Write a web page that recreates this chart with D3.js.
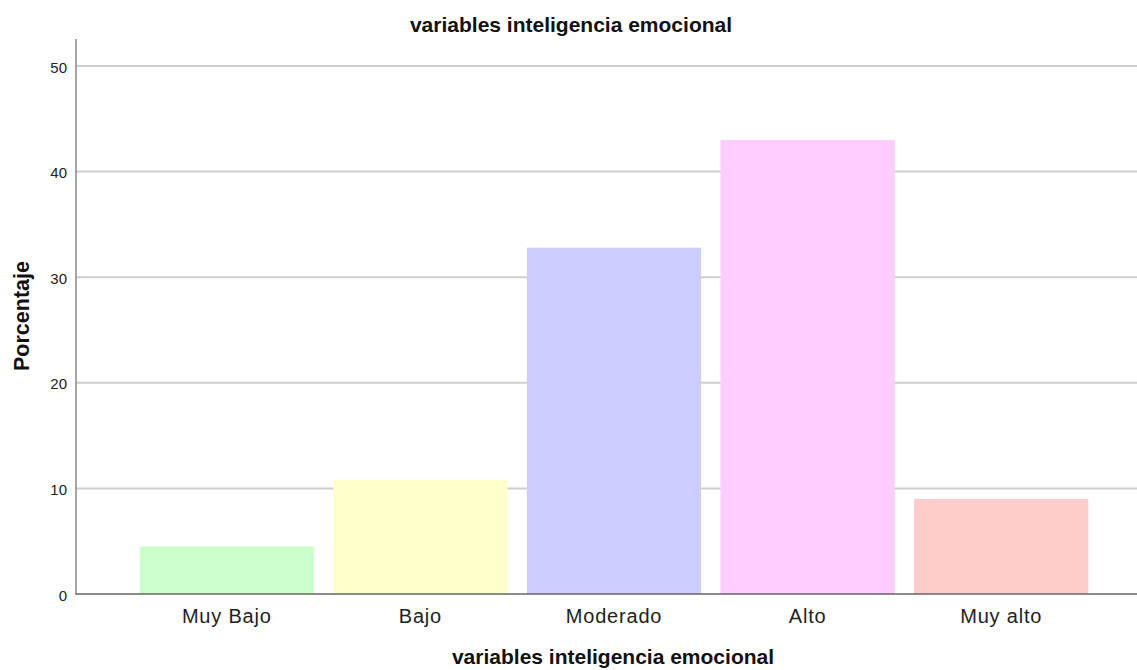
<!DOCTYPE html>
<html><head><meta charset="utf-8">
<script src="https://cdn.jsdelivr.net/npm/d3@7"></script>
<style>body{margin:0;background:#fff;} svg{display:block;font-family:"Liberation Sans",Arial,sans-serif;}</style>
</head><body>
<svg id="chart" width="1137" height="670"></svg>
<script>
const categories = ["Muy Bajo", "Bajo", "Moderado", "Alto", "Muy alto"];
const values = [4.5, 10.8, 32.8, 43.0, 9.0];
const colors = ["#ccffcc", "#ffffcc", "#ccccff", "#ffccff", "#ffcccc"];
const yTicks = [0, 10, 20, 30, 40, 50];
const title = "variables inteligencia emocional";
const xTitle = "variables inteligencia emocional";
const yTitle = "Porcentaje";

const svg = d3.select("#chart");
const y = d3.scaleLinear().domain([0, 50]).range([594, 66]);
const x = d3.scaleBand().domain(categories).range([130, 1098]).paddingInner(0.1).paddingOuter(0.05);
const axisLeft = 76, axisRight = 1137;

// gridlines
svg.append("g").selectAll("line").data(yTicks.filter(d => d > 0)).join("line")
  .attr("x1", axisLeft).attr("x2", axisRight)
  .attr("y1", d => y(d)).attr("y2", d => y(d))
  .attr("stroke", "#cfcfcf").attr("stroke-width", 2);

// bars
svg.append("g").selectAll("rect").data(categories).join("rect")
  .attr("x", d => x(d)).attr("width", x.bandwidth())
  .attr("y", (d, i) => y(values[i])).attr("height", (d, i) => y(0) - y(values[i]))
  .attr("fill", (d, i) => colors[i]);

// y axis
const ya = svg.append("g").attr("transform", `translate(${axisLeft},0)`)
  .call(d3.axisLeft(y).tickValues(yTicks).tickSize(0).tickPadding(9));
ya.select(".domain").remove();
ya.selectAll("text").attr("font-size", 15).attr("fill", "#222").attr("dy", "0.4em")
  .attr("font-family", "Liberation Sans, Arial, sans-serif");
svg.append("line").attr("x1", axisLeft).attr("x2", axisLeft).attr("y1", 39).attr("y2", 595)
  .attr("stroke", "#888").attr("stroke-width", 1.5);

// x axis
const xa = svg.append("g").attr("transform", `translate(0,${y(0)})`)
  .call(d3.axisBottom(x).tickSize(0).tickPadding(0));
xa.select(".domain").remove();
xa.selectAll("text").attr("font-size", 20).attr("fill", "#222").attr("dy", null).attr("y", 29)
  .attr("letter-spacing", "0.8px")
  .attr("font-family", "Liberation Sans, Arial, sans-serif");
svg.append("line").attr("x1", axisLeft).attr("x2", axisRight).attr("y1", y(0)).attr("y2", y(0))
  .attr("stroke", "#666").attr("stroke-width", 1.5);

// titles
svg.append("text").attr("x", 571).attr("y", 32).attr("text-anchor", "middle")
  .attr("font-size", 21).attr("font-weight", "bold").attr("fill", "#111").text(title);
svg.append("text").attr("x", 613).attr("y", 664).attr("text-anchor", "middle")
  .attr("font-size", 21).attr("font-weight", "bold").attr("fill", "#111").text(xTitle);
svg.append("text").attr("transform", "translate(29,316) rotate(-90)").attr("text-anchor", "middle")
  .attr("font-size", 21.5).attr("font-weight", "bold").attr("fill", "#111").text(yTitle);
</script>
</body></html>
